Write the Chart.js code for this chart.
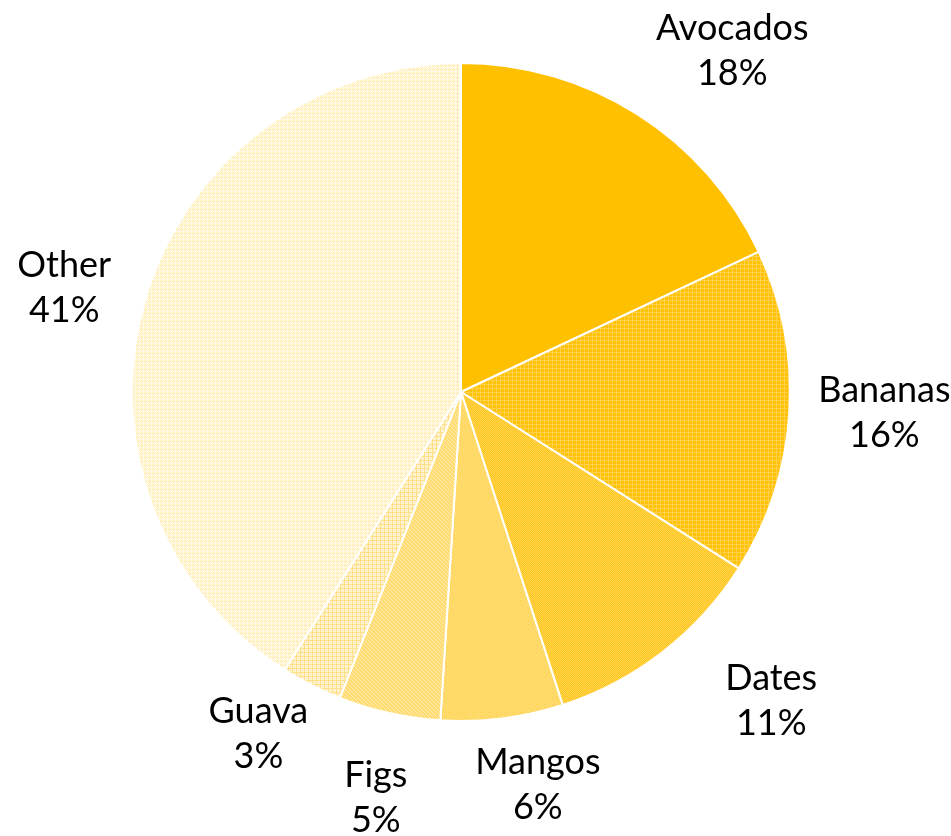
<!DOCTYPE html>
<html>
<head>
<meta charset="utf-8">
<script src="https://cdn.jsdelivr.net/npm/chart.js@4"></script>
<style>
  html, body { margin: 0; padding: 0; background: #ffffff; }
  #wrap { width: 951px; height: 836px; position: relative; }
</style>
</head>
<body>
<div id="wrap"><canvas id="chart" width="951" height="836"></canvas></div>
<script>
// Fruit share by category (percent)
const categories = ['Avocados', 'Bananas', 'Dates', 'Mangos', 'Figs', 'Guava', 'Other'];
const shares = [18, 16, 11, 6, 5, 3, 41];

// Fine-tuning of each label's placement beyond the radial rule [dx, dy]
const labelNudge = [[38, 0], [-1, -4], [62, -10], [24, -8], [0, 12], [-17, -18], [-7, 9]];

// Pixel tiles used to build the textured fills
function makePattern(rows, palette) {
  const h = rows.length, w = rows[0].length;
  const c = document.createElement('canvas');
  c.width = w; c.height = h;
  const g = c.getContext('2d');
  for (let y = 0; y < h; y++) {
    for (let x = 0; x < w; x++) {
      g.fillStyle = palette[rows[y][x]];
      g.fillRect(x, y, 1, 1);
    }
  }
  return g.createPattern(c, 'repeat');
}

const ctx = document.getElementById('chart').getContext('2d');

const fills = [
  '#FFC000',
  makePattern(['LLLL', 'LAAA', 'LAAA', 'LAAA'], { A: '#FFC205', L: '#FFD04A' }),
  makePattern(['LA', 'AL'], { A: '#FFC820', L: '#FFD24C' }),
  makePattern(['ALLL', 'LLLL', 'LLAL', 'LLLL'], { A: '#FFCF45', L: '#FFDA6C' }),
  makePattern(['WLLL', 'LWLL', 'LLWL', 'LLLW'], { L: '#FFDC74', W: '#FFEAAA' }),
  makePattern(['YYYY', 'YWWW', 'YWWW', 'YWWW'], { Y: '#FFE08A', W: '#FFF3CF' }),
  makePattern(['WYWW', 'YWYW', 'WYWW', 'WWWW'], { Y: '#FFE9A2', W: '#FFF8E2' })
];

const LABEL_FONT = '36px Lato';
const LINE_H = 45;
const GAP = 30;

// Draws "name / share%" outside each slice, pushed out along its mid-angle
const outsideLabels = {
  id: 'outsideLabels',
  afterDatasetsDraw(chart) {
    const c = chart.ctx;
    const meta = chart.getDatasetMeta(0);
    c.save();
    c.font = LABEL_FONT;
    c.fillStyle = '#000000';
    c.textAlign = 'center';
    c.textBaseline = 'middle';
    meta.data.forEach((arc, i) => {
      const a = (arc.startAngle + arc.endAngle) / 2;
      const dx = Math.cos(a), dy = Math.sin(a);
      const lines = [categories[i], shares[i] + '%'];
      const w = Math.max(...lines.map(t => c.measureText(t).width));
      const h = LINE_H * 2;
      const r = arc.outerRadius + GAP;
      const cx = arc.x + r * dx + dx * w / 2 + labelNudge[i][0];
      const cy = arc.y + r * dy + dy * h / 2 + labelNudge[i][1];
      c.fillText(lines[0], cx, cy - LINE_H / 2);
      c.fillText(lines[1], cx, cy + LINE_H / 2);
    });
    c.restore();
  }
};

new Chart(ctx, {
  type: 'pie',
  data: {
    labels: categories,
    datasets: [{
      data: shares,
      backgroundColor: fills,
      borderColor: '#ffffff',
      borderWidth: 2
    }]
  },
  options: {
    responsive: false,
    animation: false,
    layout: { padding: { top: 62, bottom: 114, left: 131, right: 160 } },
    plugins: {
      legend: { display: false },
      tooltip: { enabled: false }
    }
  },
  plugins: [outsideLabels]
});
</script>
</body>
</html>
